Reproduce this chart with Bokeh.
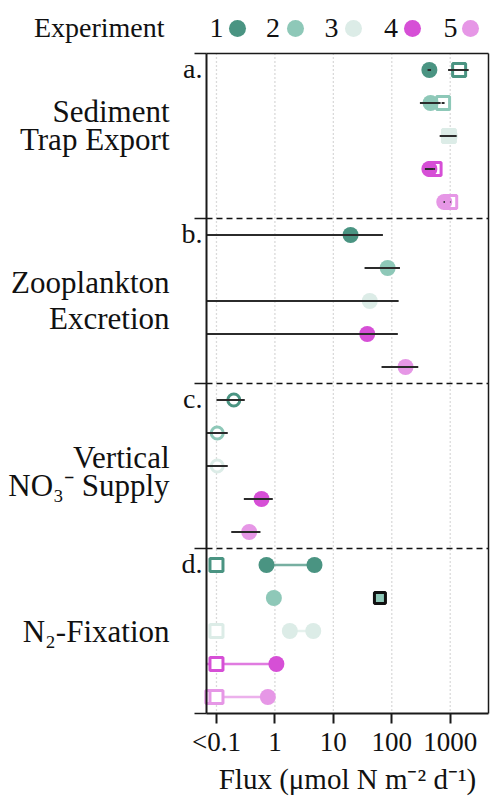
from math import log10
from bokeh.plotting import figure
from bokeh.models import (Range1d, FixedTicker, CustomJSTickFormatter, LogAxis, LinearAxis,
                          ColumnDataSource)
from bokeh.embed import file_html
from bokeh.resources import INLINE
from bokeh.core.properties import value

FONT = "Liberation Serif"
NAN = float("nan")

# ---------------- data ----------------
experiments = ["1", "2", "3", "4", "5"]
exp_colors = ["#4a9482", "#8ec8b8", "#dcece7", "#d64fd6", "#e697e6"]

panel_letters = ["a.", "b.", "c.", "d."]
x_ticks = [0.1, 1, 10, 100, 1000]

# a. Sediment trap export
trap_circle = [440, 461, 980, 440, 790]
trap_circle_lo = [410, 303, 660, 369, 770]
trap_circle_hi = [470, 686, 1290, 525, 810]
trap_square = [1420, 755, 950, 540, 1000]
trap_square_lo = [920, 713, 930, 530, 990]
trap_square_hi = [2070, 800, 970, 550, 1010]

# b. Zooplankton excretion
zoo = [19.7, 85, 42, 38, 172]
zoo_lo = [0.01, 34.2, 0.01, 0.01, 66.8]
zoo_hi = [70.5, 138, 131, 127, 284]

# c. Vertical NO3- supply
no3 = [0.198, 0.103, 0.103, 0.59, 0.363]
no3_lo = [0.1, 0.01, 0.01, 0.294, 0.179]
no3_hi = [0.305, 0.156, 0.156, 0.92, 0.566]
no3_open = [True, True, True, False, False]

# d. N2 fixation
n2_below = [0.1, NAN, 0.1, 0.1, 0.1]
n2_below2 = [NAN, NAN, NAN, NAN, 0.085]
n2_low = [0.718, 0.96, 1.8, 1.06, 0.757]
n2_high = [4.76, NAN, 4.53, NAN, NAN]
n2_range_lo = [0.718, NAN, 1.8, 0.01, 0.085]
n2_range_hi = [4.76, NAN, 4.53, 1.06, 0.757]
n2_other = [NAN, 62.7, NAN, NAN, NAN]

# ---------------- layout helpers ----------------
W, H = 490, 798
XL, XR = 0.0675, 4520          # visible flux range of the panel box
Y0, Y1 = 0.5, 20.5             # row range of the panel box
BOX_L, BOX_R = 206, 488        # box edges in canvas px
BOX_T = 53                     # box top in canvas px
ROW_PX = 33.0
TXT_SHIFT = -10                # baseline correction for text glyphs

dec_px = (BOX_R - BOX_L) / (log10(XR) - log10(XL))
lx0 = log10(XL) - BOX_L / dec_px
lx1 = log10(XR) + (W - BOX_R) / dec_px
yt = Y0 - BOX_T / ROW_PX
yb = yt + H / ROW_PX


def px2x(px):
    return 10 ** (lx0 + px / dec_px)


def ry(py):
    return yt + py / ROW_PX


def tby(py):
    return ry(py + TXT_SHIFT)


def rows(k):
    return [5 * k + i + 1 for i in range(5)]


def clip(vals):
    return [v if v != v else max(v, XL) for v in vals]


p = figure(width=W, height=H, x_axis_type="log", x_range=Range1d(10 ** lx0, 10 ** lx1),
           y_range=Range1d(yb, yt), toolbar_location=None, output_backend="svg",
           min_border=0, x_axis_location=None, y_axis_location=None,
           outline_line_color=None)
p.grid.visible = False

AX = "#1a1a1a"

# bottom axis
xa = LogAxis(fixed_location=Y1, bounds=(XL, XR),
             ticker=FixedTicker(ticks=x_ticks, minor_ticks=[]),
             formatter=CustomJSTickFormatter(
                 code="return tick < 0.5 ? '<0.1' : tick.toFixed(0);"))
xa.major_tick_out = 10
xa.major_tick_in = 0
xa.minor_tick_line_color = None
xa.axis_line_width = 2
xa.major_tick_line_width = 2
xa.axis_line_color = AX
xa.major_tick_line_color = AX
xa.major_label_text_font = FONT
xa.major_label_text_font_size = "27px"
xa.major_label_text_color = "#111111"
xa.major_label_standoff = 3
xa.axis_label = "Flux (μmol N m⁻² d⁻¹)"
xa.axis_label_text_font = FONT
xa.axis_label_text_font_size = "29px"
xa.axis_label_text_font_style = "normal"
xa.axis_label_text_color = "#111111"
xa.axis_label_standoff = 3
p.add_layout(xa, "below")

# left axis (panel boundary ticks)
ya = LinearAxis(fixed_location=XL, bounds=(Y0, Y1),
                ticker=FixedTicker(ticks=[0.5, 5.5, 10.5, 15.5, 20.5], minor_ticks=[]),
                formatter=CustomJSTickFormatter(code="return '';"))
ya.major_tick_out = 12
ya.major_tick_in = 0
ya.minor_tick_line_color = None
ya.axis_line_width = 2
ya.major_tick_line_width = 1.5
ya.axis_line_color = AX
ya.major_tick_line_color = AX
p.add_layout(ya, "left")

# top and right box lines
ta = LogAxis(fixed_location=Y0, bounds=(XL, XR), ticker=FixedTicker(ticks=[]),
             formatter=CustomJSTickFormatter(code="return '';"))
ta.axis_line_width = 1.5
ta.axis_line_color = AX
ta.major_tick_line_color = None
ta.minor_tick_line_color = None
p.add_layout(ta, "above")

ra_ = LinearAxis(fixed_location=XR, bounds=(Y0, Y1), ticker=FixedTicker(ticks=[]),
                 formatter=CustomJSTickFormatter(code="return '';"))
ra_.axis_line_width = 1.5
ra_.axis_line_color = AX
ra_.major_tick_line_color = None
ra_.minor_tick_line_color = None
p.add_layout(ra_, "right")

# dotted vertical grid inside the box
p.segment(x0=x_ticks, y0=[Y0] * 5, x1=x_ticks, y1=[Y1] * 5, line_color="#b5b5b5",
          line_dash="1 3", line_width=1.3)

# dashed panel separators
seps = [5.5, 10.5, 15.5]
p.segment(x0=[XL] * 3, y0=seps, x1=[XR] * 3, y1=seps, line_color="#111111",
          line_dash="6 4", line_width=1.5)

BAR = dict(line_color="#2b2b2b", line_width=2)

# a. sediment trap
sa = ColumnDataSource(dict(y=rows(0), c=exp_colors, circ=trap_circle,
                           clo=clip(trap_circle_lo), chi=trap_circle_hi, sq=trap_square,
                           slo=clip(trap_square_lo), shi=trap_square_hi))
p.scatter("sq", "y", source=sa, marker="square", size=13, fill_color="white",
          line_color="c", line_width=3)
p.scatter("circ", "y", source=sa, marker="circle", size=16, fill_color="c", line_color=None)
p.segment(x0="clo", y0="y", x1="chi", y1="y", source=sa, **BAR)
p.segment(x0="slo", y0="y", x1="shi", y1="y", source=sa, **BAR)

# b. zooplankton
sb = ColumnDataSource(dict(y=rows(1), c=exp_colors, v=zoo, lo=clip(zoo_lo), hi=zoo_hi))
p.scatter("v", "y", source=sb, marker="circle", size=16, fill_color="c", line_color=None)
p.segment(x0="lo", y0="y", x1="hi", y1="y", source=sb, **BAR)

# c. vertical NO3- supply
rc = rows(2)
open_idx = [i for i in range(5) if no3_open[i]]
fill_idx = [i for i in range(5) if not no3_open[i]]
sco = ColumnDataSource(dict(y=[rc[i] for i in open_idx], c=[exp_colors[i] for i in open_idx],
                            v=[no3[i] for i in open_idx]))
scf = ColumnDataSource(dict(y=[rc[i] for i in fill_idx], c=[exp_colors[i] for i in fill_idx],
                            v=[no3[i] for i in fill_idx]))
p.scatter("v", "y", source=sco, marker="circle", size=12, fill_color="white",
          line_color="c", line_width=3)
p.scatter("v", "y", source=scf, marker="circle", size=16, fill_color="c", line_color=None)
sc = ColumnDataSource(dict(y=rc, lo=clip(no3_lo), hi=no3_hi))
p.segment(x0="lo", y0="y", x1="hi", y1="y", source=sc, **BAR)

# d. N2 fixation
sd = ColumnDataSource(dict(y=rows(3), c=exp_colors, b=n2_below, b2=n2_below2, lo=n2_low,
                           hi=n2_high, rlo=clip(n2_range_lo), rhi=n2_range_hi, o=n2_other))
p.segment(x0="rlo", y0="y", x1="rhi", y1="y", source=sd, line_color="c", line_width=2.5,
          line_alpha=0.75)
p.scatter("b2", "y", source=sd, marker="square", size=13, fill_color="white",
          line_color="c", line_width=3)
p.scatter("b", "y", source=sd, marker="square", size=13, fill_color="white",
          line_color="c", line_width=3)
p.scatter("lo", "y", source=sd, marker="circle", size=16, fill_color="c", line_color=None)
p.scatter("hi", "y", source=sd, marker="circle", size=16, fill_color="c", line_color=None)
p.scatter("o", "y", source=sd, marker="square", size=11, fill_color="c",
          line_color="#111111", line_width=3)

TXT = dict(text_font=value(FONT), text_color="#111111", text_baseline="alphabetic")

# legend strip
num_x = [216, 272.5, 331, 390.5, 450]
dot_x = [237, 295, 353, 412, 470]
p.text(x=[px2x(164)], y=[tby(37)], text=["Experiment"], text_align="right",
       text_font_size="28px", **TXT)
p.text(x=[px2x(v) for v in num_x], y=[tby(37)] * 5, text=experiments, text_align="center",
       text_font_size="28px", **TXT)
p.scatter(x=[px2x(v) for v in dot_x], y=[ry(28)] * 5, marker="circle", size=17,
          fill_color=exp_colors, line_color=None)

# panel letters
p.text(x=[px2x(202)] * 4, y=[tby(78 + 165 * k) for k in range(4)], text=panel_letters,
       text_align="right", text_font_size="28px", **TXT)

# group labels (reference baselines)
group_text = ["Sediment", "Trap Export", "Zooplankton", "Excretion", "Vertical",
              "NO₃⁻ Supply", "N₂-Fixation"]
group_base = [121, 149, 292, 328, 467, 495, 641]
p.text(x=[px2x(169)] * len(group_text), y=[tby(b) for b in group_base], text=group_text,
       text_align="right", text_font_size="31px", **TXT)

open("out.html", "w").write(file_html(p, INLINE))
